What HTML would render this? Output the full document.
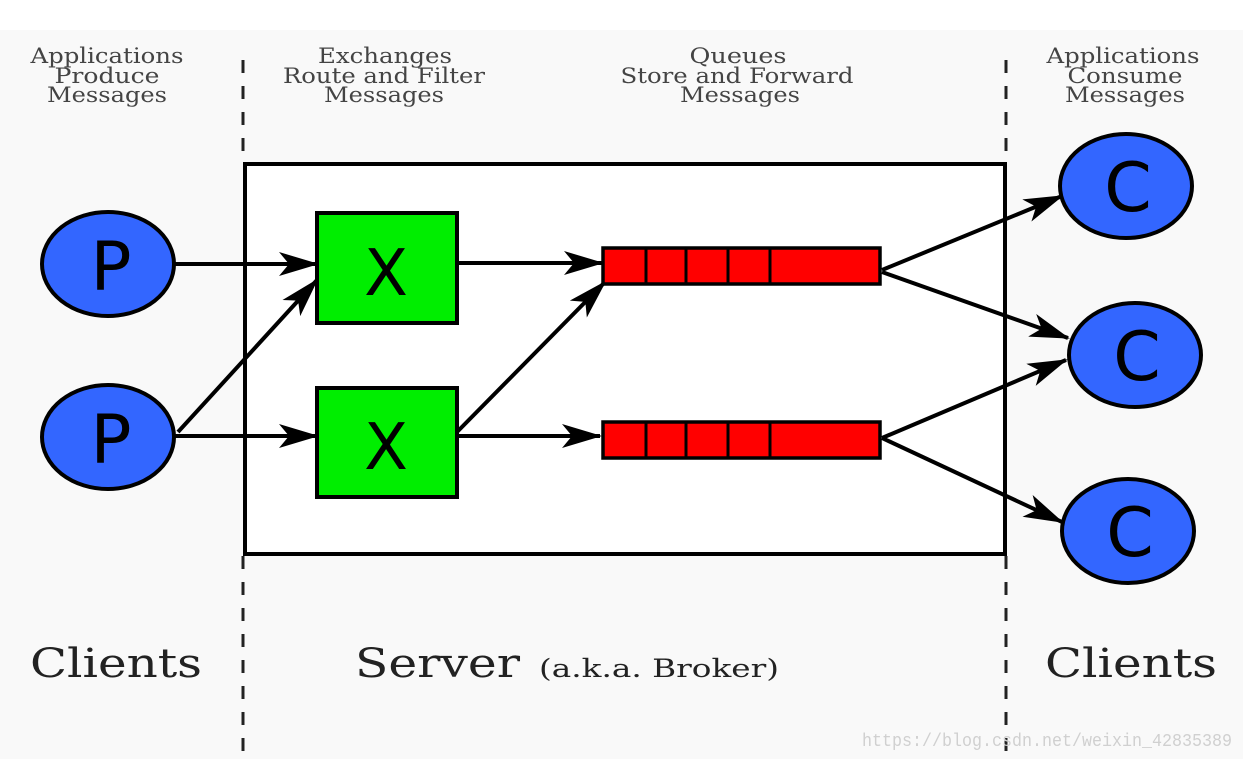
<!DOCTYPE html>
<html><head><meta charset="utf-8"><style>
html,body{margin:0;padding:0;background:#fff;}
svg{display:block;}
.h{font-family:"DejaVu Serif","Liberation Serif",serif;font-size:21px;fill:#444;text-anchor:middle;}
.big{font-family:"DejaVu Serif","Liberation Serif",serif;fill:#222;}
.lt{font-family:"DejaVu Sans","Liberation Sans",sans-serif;fill:#000;text-anchor:middle;}
</style></head><body>
<svg width="1243" height="759" viewBox="0 0 1243 759" xmlns="http://www.w3.org/2000/svg">
<defs>
<marker id="b" viewBox="0 0 40 24" markerWidth="40" markerHeight="24" refX="38" refY="12" orient="auto" markerUnits="userSpaceOnUse">
<path d="M0,0 L40,12 L0,24 L10,12 Z" fill="#000"/>
</marker>
</defs>
<rect x="0" y="0" width="1243" height="30" fill="#fff"/>
<rect x="0" y="30" width="1243" height="729" fill="#f9f9f9"/>
<g class="h">
<text x="107" y="63" textLength="153" lengthAdjust="spacingAndGlyphs">Applications</text>
<text x="107" y="83" textLength="105" lengthAdjust="spacingAndGlyphs">Produce</text>
<text x="107" y="102" textLength="120" lengthAdjust="spacingAndGlyphs">Messages</text>
<text x="385" y="63" textLength="134" lengthAdjust="spacingAndGlyphs">Exchanges</text>
<text x="384" y="83" textLength="202" lengthAdjust="spacingAndGlyphs">Route and Filter</text>
<text x="384" y="102" textLength="120" lengthAdjust="spacingAndGlyphs">Messages</text>
<text x="738" y="63" textLength="97" lengthAdjust="spacingAndGlyphs">Queues</text>
<text x="737" y="83" textLength="233" lengthAdjust="spacingAndGlyphs">Store and Forward</text>
<text x="740" y="102" textLength="120" lengthAdjust="spacingAndGlyphs">Messages</text>
<text x="1123" y="63" textLength="153" lengthAdjust="spacingAndGlyphs">Applications</text>
<text x="1125" y="83" textLength="115" lengthAdjust="spacingAndGlyphs">Consume</text>
<text x="1125" y="102" textLength="120" lengthAdjust="spacingAndGlyphs">Messages</text>
</g>
<g stroke="#222" stroke-width="3" stroke-dasharray="13,13">
<line x1="243" y1="60" x2="243" y2="162"/>
<line x1="243" y1="556" x2="243" y2="752"/>
<line x1="1006" y1="60" x2="1006" y2="162"/>
<line x1="1006" y1="556" x2="1006" y2="752"/>
</g>
<rect x="245" y="164" width="760" height="390" fill="#fff" stroke="#000" stroke-width="4"/>
<g stroke="#000" stroke-width="4" fill="none">
<line x1="175" y1="264" x2="317" y2="264" marker-end="url(#b)"/>
<line x1="178" y1="432" x2="317" y2="280" marker-end="url(#b)"/>
<line x1="175" y1="436" x2="317" y2="436" marker-end="url(#b)"/>
<line x1="457" y1="263" x2="602" y2="263" marker-end="url(#b)"/>
<line x1="457" y1="432" x2="605" y2="282" marker-end="url(#b)"/>
<line x1="457" y1="436" x2="600" y2="436" marker-end="url(#b)"/>
<line x1="882" y1="270" x2="1062" y2="196" marker-end="url(#b)"/>
<line x1="882" y1="272" x2="1068" y2="338" marker-end="url(#b)"/>
<line x1="882" y1="438" x2="1066" y2="360" marker-end="url(#b)"/>
<line x1="882" y1="438" x2="1062" y2="522" marker-end="url(#b)"/>
</g>
<g fill="#3366ff" stroke="#000" stroke-width="4">
<ellipse cx="108" cy="264" rx="66" ry="52"/>
<ellipse cx="108" cy="437" rx="66" ry="52"/>
<ellipse cx="1126" cy="186" rx="66" ry="52"/>
<ellipse cx="1135" cy="355" rx="66" ry="52"/>
<ellipse cx="1128" cy="531" rx="66" ry="52"/>
</g>
<text class="lt" x="111" y="290" font-size="68">P</text>
<text class="lt" x="111" y="463" font-size="68">P</text>
<text class="lt" x="1128" y="211" font-size="68">C</text>
<text class="lt" x="1137" y="380" font-size="68">C</text>
<text class="lt" x="1130" y="556" font-size="68">C</text>
<rect x="317" y="213" width="140" height="110" fill="#00ee00" stroke="#000" stroke-width="4"/>
<rect x="317" y="388" width="140" height="109" fill="#00ee00" stroke="#000" stroke-width="4"/>
<text class="lt" x="386" y="295" font-size="64">X</text>
<text class="lt" x="386" y="469" font-size="64">X</text>
<g fill="#ff0000" stroke="#000" stroke-width="3.5">
<rect x="603" y="248" width="277" height="36"/>
<rect x="603" y="422" width="277" height="36"/>
</g>
<g stroke="#000" stroke-width="3">
<line x1="646" y1="248" x2="646" y2="284"/><line x1="686" y1="248" x2="686" y2="284"/><line x1="728" y1="248" x2="728" y2="284"/><line x1="770" y1="248" x2="770" y2="284"/>
<line x1="646" y1="422" x2="646" y2="458"/><line x1="686" y1="422" x2="686" y2="458"/><line x1="728" y1="422" x2="728" y2="458"/><line x1="770" y1="422" x2="770" y2="458"/>
</g>
<text class="big" x="30" y="677" font-size="40" textLength="172" lengthAdjust="spacingAndGlyphs">Clients</text>
<text class="big" x="355" y="677" font-size="40" textLength="165" lengthAdjust="spacingAndGlyphs">Server</text>
<text class="big" x="539" y="677" font-size="25" textLength="240" lengthAdjust="spacingAndGlyphs">(a.k.a. Broker)</text>
<text class="big" x="1045" y="677" font-size="40" textLength="172" lengthAdjust="spacingAndGlyphs">Clients</text>
<text x="862" y="746" font-family="Liberation Mono,monospace" font-size="18" fill="#d0d0d0" textLength="370" lengthAdjust="spacingAndGlyphs">https://blog.csdn.net/weixin_42835389</text>
</svg>
</body></html>
